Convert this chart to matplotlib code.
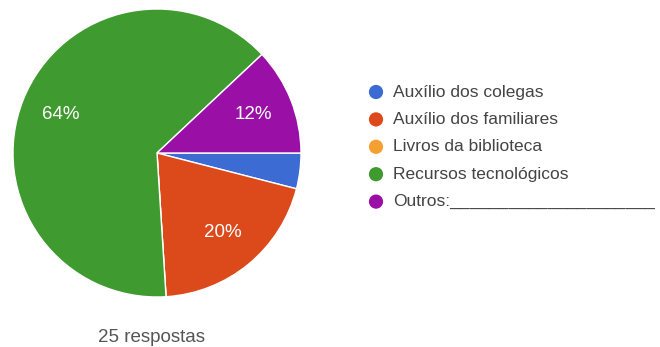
import matplotlib.pyplot as plt

plt.rcParams['font.family'] = ['Liberation Sans', 'DejaVu Sans']

# Respostas por categoria (25 no total)
categorias = ['Auxílio dos colegas', 'Auxílio dos familiares', 'Livros da biblioteca',
              'Recursos tecnológicos', 'Outros:']
respostas = [1, 5, 0, 16, 3]
cores = ['#3c6bd4', '#dc4a1c', '#f4a030', '#3f9a2f', '#9a10a6']
total_txt = '25 respostas'

fig = plt.figure(figsize=(6.6, 3.47), dpi=100)
W, H = 660, 347

# pizza centrada em (157, 153) px, raio 144 px
cx, cy, r = 157, 153, 144
ax = fig.add_axes([(cx - r) / W, (H - cy - r) / H, 2 * r / W, 2 * r / H])
ax.set_aspect('equal')

def rotulo(p):
    return f'{p:.0f}%' if p >= 5 else ''

ax.pie(respostas, colors=cores, startangle=0, counterclock=False,
       autopct=rotulo, pctdistance=0.72, radius=1,
       wedgeprops=dict(edgecolor='white', linewidth=1.0),
       textprops=dict(color='white', fontsize=13.5))
ax.set_xlim(-1, 1)
ax.set_ylim(-1, 1)

# legenda desenhada à mão
lg = fig.add_axes([0, 0, 1, 1])
lg.set_xlim(0, W)
lg.set_ylim(H, 0)
lg.axis('off')
y0, passo = 92, 27.4
for i, (nome, cor) in enumerate(zip(categorias, cores)):
    y = y0 + i * passo
    lg.scatter([376], [y], s=105, color=cor, edgecolors='none')
    texto = nome + ('_' * 21 if nome.startswith('Outros') else '')
    lg.text(393, y, texto, fontsize=12.5, color='#444444', va='center', ha='left')

lg.text(151, 337, total_txt, fontsize=13.5, color='#555555', ha='center', va='center')

fig.savefig('out.png', dpi=100)
